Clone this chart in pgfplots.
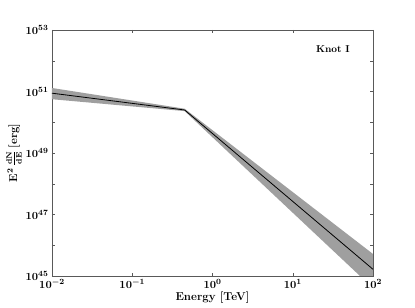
\documentclass[border=0pt]{standalone}
\usepackage{pgfplots}
\pgfplotsset{compat=1.18}
\begin{document}
\begin{tikzpicture}[x=1bp,y=1bp]
\begin{axis}[
  at={(0,0)}, anchor=south west,
  scale only axis, width=321bp, height=246bp,
  xmode=log, ymode=log,
  xmin=1e-2, xmax=1e2, ymin=1e45, ymax=1e53,
  log basis x=10, log basis y=10,
  xtick={1e-2,1e-1,1e0,1e1,1e2},
  xticklabels={$\mathbf{10^{-2}}$,$\mathbf{10^{-1}}$,$\mathbf{10^{0}}$,$\mathbf{10^{1}}$,$\mathbf{10^{2}}$},
  ytick={1e45,1e46,1e47,1e48,1e49,1e50,1e51,1e52,1e53},
  yticklabels={$\mathbf{10^{45}}$,,$\mathbf{10^{47}}$,,$\mathbf{10^{49}}$,,$\mathbf{10^{51}}$,,$\mathbf{10^{53}}$},
  tick align=inside,
  major tick length=3bp, minor tick length=1.8bp,
  every tick/.style={gray!70!black, line width=0.4pt},
  axis line style={gray!70!black, line width=0.5pt},
  tick label style={font=\fontsize{11}{13}\selectfont\boldmath\bfseries},
  label style={font=\fontsize{11.5}{13}\selectfont\boldmath\bfseries},
  xlabel={Energy [TeV]},
  ylabel={E$^2\,\frac{\mathrm{dN}}{\mathrm{dE}}\,$[erg]},
  xlabel style={at={(axis description cs:0.5,0)}, anchor=center, yshift=-22bp},
  ylabel style={at={(axis description cs:0,0.5)}, anchor=center, yshift=38bp},
  clip=true,
]
\addplot[fill=gray!75, draw=none] coordinates {
  (0.01,1.3e51) (0.45,2.75e50) (100,5.2e45)
  (100,4e44) (0.45,2.3e50) (0.01,5.6e50)
} -- cycle;
\addplot[black, line width=0.8pt] coordinates {
  (0.01,8.8e50) (0.45,2.5e50) (100,1.65e45)
};
\node[font=\fontsize{10}{12}\selectfont\bfseries] at (rel axis cs:0.875,0.923) {Knot I};
\end{axis}
\pgfresetboundingbox
\path (-52bp,-32bp) rectangle (363bp,276bp);
\end{tikzpicture}
\end{document}
